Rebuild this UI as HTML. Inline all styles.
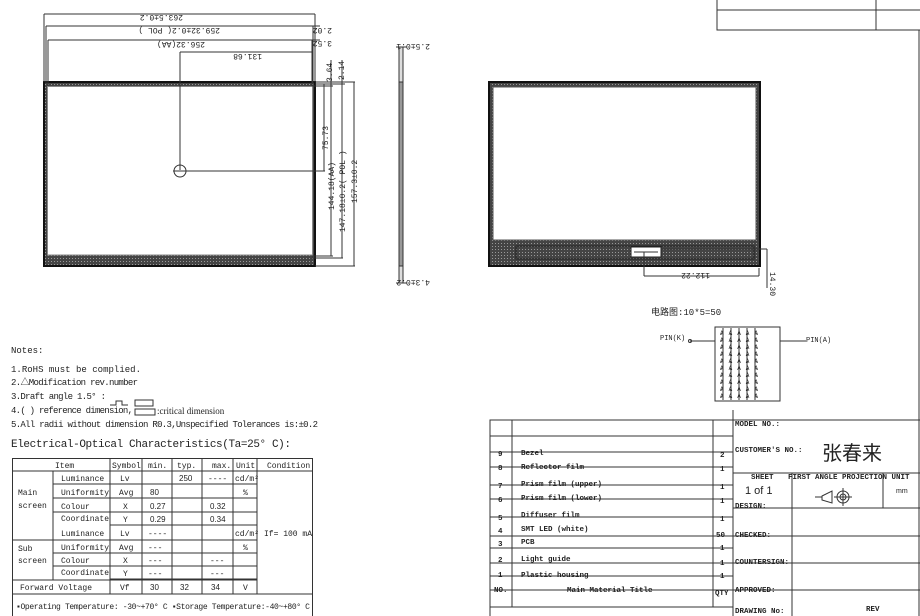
<!DOCTYPE html>
<html><head><meta charset="utf-8"><style>
html,body{margin:0;padding:0;background:#fff;}
svg{display:block;}
text{font-family:"Liberation Mono","Noto Sans CJK SC",monospace;fill:#222;}
.s{font-family:"Liberation Sans","Noto Sans CJK SC",sans-serif;}
.sf{font-family:"Liberation Serif","Noto Serif CJK SC",serif;}
</style></head><body>
<svg width="920" height="616" viewBox="0 0 920 616" xmlns="http://www.w3.org/2000/svg">
<defs>
<pattern id="h" width="3" height="3" patternUnits="userSpaceOnUse"><rect width="3" height="3" fill="#444"/><rect width="1" height="1" fill="#999"/></pattern>
</defs>
<g stroke="#333" stroke-width="1" fill="none">
<!-- left drawing -->
<rect x="44" y="82" width="271" height="184" fill="url(#h)" stroke="#111" stroke-width="2"/>
<rect x="47.5" y="86.5" width="265" height="168.5" fill="#fff" stroke="#888"/>
<line x1="44" y1="14" x2="315" y2="14"/>
<line x1="44" y1="14" x2="44" y2="82"/><line x1="315" y1="14" x2="315" y2="82"/>
<line x1="46" y1="26" x2="320" y2="26"/><line x1="46" y1="26" x2="46" y2="84"/><line x1="313" y1="26" x2="313" y2="84"/>
<line x1="48" y1="40" x2="320" y2="40"/><line x1="48" y1="40" x2="48" y2="86"/><line x1="312" y1="40" x2="312" y2="86"/>
<line x1="180" y1="52" x2="312" y2="52"/><line x1="180" y1="52" x2="180" y2="170"/>
<line x1="180" y1="171" x2="325" y2="171"/>
<circle cx="180" cy="171" r="6"/><line x1="173" y1="171" x2="187" y2="171"/>
<line x1="315" y1="82" x2="355" y2="82"/><line x1="315" y1="84" x2="345" y2="84"/><line x1="312" y1="86" x2="333" y2="86"/>
<line x1="312" y1="256" x2="333" y2="256"/><line x1="312" y1="258" x2="343" y2="258"/><line x1="315" y1="266" x2="355" y2="266"/>
<line x1="324" y1="84" x2="324" y2="171"/><line x1="331" y1="86" x2="331" y2="256"/><line x1="342" y1="84" x2="342" y2="258"/><line x1="354" y1="82" x2="354" y2="266"/>
<line x1="331" y1="60" x2="331" y2="86"/><line x1="342" y1="60" x2="342" y2="84"/>
<!-- side view -->
<rect x="399" y="47" width="4" height="236" fill="#ddd"/>
<rect x="399" y="82" width="4" height="184" fill="#999"/>
<line x1="396" y1="47" x2="407" y2="47"/><line x1="396" y1="283" x2="407" y2="283"/>
<!-- right drawing -->
<rect x="489" y="82" width="271" height="184" fill="url(#h)" stroke="#111" stroke-width="2"/>
<rect x="493" y="87" width="263" height="153" fill="#fff" stroke="#555"/>
<rect x="516" y="246" width="238" height="13" stroke="#222"/>
<rect x="631" y="247" width="30" height="10" fill="#fff" stroke="#222"/>
<line x1="634" y1="252" x2="658" y2="252"/>
<line x1="644" y1="252" x2="644" y2="276"/><line x1="644" y1="276" x2="759" y2="276"/><line x1="759" y1="268" x2="759" y2="276"/>
<line x1="661" y1="249" x2="767" y2="249"/><line x1="767" y1="249" x2="767" y2="288"/>
<!-- top right table -->
<rect x="717" y="-1" width="210" height="31"/>
<line x1="717" y1="10" x2="920" y2="10"/><line x1="876" y1="0" x2="876" y2="30"/>
<line x1="919" y1="30" x2="919" y2="616"/>
<!-- LED box -->
<rect x="715" y="327" width="65" height="74"/>
<line x1="690" y1="341" x2="715" y2="341"/><line x1="780" y1="341" x2="806" y2="341"/>
<circle cx="690" cy="341" r="1.5"/>
<line x1="723" y1="328" x2="723" y2="400"/><line x1="731" y1="328" x2="731" y2="400"/><line x1="739" y1="328" x2="739" y2="400"/><line x1="747" y1="328" x2="747" y2="400"/><line x1="755" y1="328" x2="755" y2="400"/>
<!-- elec table -->
<rect x="12.5" y="458.5" width="300" height="160"/>
<line x1="12" y1="471" x2="312" y2="471"/>
<line x1="53" y1="484" x2="257" y2="484"/><line x1="53" y1="498" x2="257" y2="498"/><line x1="53" y1="512" x2="257" y2="512"/><line x1="110" y1="525" x2="257" y2="525"/>
<line x1="12" y1="540" x2="257" y2="540"/>
<line x1="53" y1="553" x2="257" y2="553"/><line x1="53" y1="566" x2="257" y2="566"/><line x1="110" y1="579" x2="257" y2="579"/>
<line x1="12" y1="580" x2="257" y2="580"/><line x1="12" y1="594" x2="312" y2="594"/>
<line x1="53" y1="471" x2="53" y2="580"/><line x1="110" y1="458" x2="110" y2="594"/><line x1="142" y1="458" x2="142" y2="594"/><line x1="172" y1="458" x2="172" y2="594"/><line x1="202" y1="458" x2="202" y2="594"/><line x1="233" y1="458" x2="233" y2="594"/><line x1="257" y1="458" x2="257" y2="594"/>
<!-- notes icons -->
<rect x="135" y="400" width="18" height="6"/><rect x="135" y="409" width="20" height="6"/>
<path d="M110 405 h6 v-4 h6 v4 h6"/>
<!-- material table -->
<rect x="490" y="420" width="243" height="200"/>
<line x1="512" y1="420" x2="512" y2="607"/><line x1="713" y1="420" x2="713" y2="607"/>
<line x1="490" y1="436" x2="733" y2="436"/>
<line x1="490" y1="452" x2="733" y2="452"/><line x1="490" y1="467" x2="733" y2="467"/><line x1="490" y1="485" x2="733" y2="485"/><line x1="490" y1="499" x2="733" y2="499"/><line x1="490" y1="517" x2="733" y2="517"/><line x1="490" y1="536" x2="733" y2="536"/><line x1="490" y1="548" x2="733" y2="548"/><line x1="490" y1="563" x2="733" y2="563"/><line x1="490" y1="576" x2="733" y2="576"/><line x1="490" y1="590" x2="733" y2="590"/><line x1="490" y1="607" x2="733" y2="607"/>
<!-- title block -->
<line x1="733" y1="420" x2="920" y2="420"/><line x1="733" y1="410" x2="733" y2="616"/>
<line x1="733" y1="473" x2="920" y2="473"/><line x1="733" y1="508" x2="920" y2="508"/><line x1="733" y1="536" x2="920" y2="536"/><line x1="733" y1="563" x2="920" y2="563"/><line x1="733" y1="590" x2="920" y2="590"/>
<line x1="792" y1="473" x2="792" y2="616"/><line x1="883" y1="473" x2="883" y2="508"/>
<path d="M822 496 l10 -5 v12 l-10 -3 z"/><line x1="815" y1="497" x2="822" y2="497"/>
<circle cx="843" cy="497" r="6"/><circle cx="843" cy="497" r="3"/><line x1="834" y1="497" x2="852" y2="497"/><line x1="843" y1="488" x2="843" y2="506"/>
</g>
<!-- dimension texts -->
<g font-size="8" class="s">
<text transform="translate(183,14) rotate(180)" dy="-1">263.5±0.2</text>
<text transform="translate(220,27) rotate(180)" dy="-1">259.32±0.2( POL )</text>
<text transform="translate(205,41) rotate(180)" dy="-1">256.32(AA)</text>
<text transform="translate(262,53) rotate(180)" dy="-1">131.68</text>
<text transform="translate(332,28) rotate(180)">2.02</text>
<text transform="translate(332,41) rotate(180)">3.52</text>
<text transform="translate(332,82) rotate(-90)">3.64</text>
<text transform="translate(344,80) rotate(-90)">2.14</text>
<text transform="translate(328,150) rotate(-90)">75.73</text>
<text transform="translate(334,210) rotate(-90)">144.18(AA)</text>
<text transform="translate(345,232) rotate(-90)">147.18±0.2( POL )</text>
<text transform="translate(357,203) rotate(-90)">157.3±0.2</text>
<text transform="translate(430,44) rotate(180)">2.5±0.1</text>
<text transform="translate(430,280) rotate(180)">4.3±0.2</text>
<text transform="translate(710,273) rotate(180)">112.22</text>
<text transform="translate(770,272) rotate(90)">14.30</text>
<text x="651" y="315" font-size="9">电路图:10*5=50</text>
<text x="660" y="340" font-size="7">PIN(K)</text>
<text x="806" y="342" font-size="7">PIN(A)</text>
</g>
<g font-size="6" class="s" fill="#222">
<text x="720" y="335" textLength="38">ѦѦѦѦѦ</text><text x="720" y="342" textLength="38">ѦѦѦѦѦ</text><text x="720" y="349" textLength="38">ѦѦѦѦѦ</text><text x="720" y="356" textLength="38">ѦѦѦѦѦ</text><text x="720" y="363" textLength="38">ѦѦѦѦѦ</text><text x="720" y="370" textLength="38">ѦѦѦѦѦ</text><text x="720" y="377" textLength="38">ѦѦѦѦѦ</text><text x="720" y="384" textLength="38">ѦѦѦѦѦ</text><text x="720" y="391" textLength="38">ѦѦѦѦѦ</text><text x="720" y="398" textLength="38">ѦѦѦѦѦ</text>
</g>
<!-- notes -->
<g font-size="9">
<text x="11" y="353">Notes:</text>
<text x="11" y="372" textLength="130">1.RoHS must be complied.</text>
<text x="11" y="385" textLength="127">2.△Modification rev.number</text>
<text x="11" y="399" textLength="95">3.Draft angle 1.5° :</text>
<text x="11" y="413" textLength="122">4.( ) reference dimension,</text>
<text x="157" y="414" class="sf">:critical dimension</text>
<text x="11" y="427" textLength="307">5.All radii without dimension R0.3,Unspecified Tolerances is:±0.2</text>
<text x="11" y="447" font-size="11" textLength="280">Electrical-Optical  Characteristics(Ta=25° C):</text>
</g>
<g font-size="8" class="sf">
<text x="55" y="468">Item</text><text x="112" y="468">Symbol</text><text x="148" y="468">min.</text><text x="177" y="468">typ.</text><text x="212" y="468">max.</text><text x="236" y="468">Unit</text><text x="267" y="468">Condition</text>
<text x="61" y="481">Luminance</text><text x="120" y="481">Lv</text><text x="179" y="481" class="s">250</text><text x="208" y="481">----</text><text x="235" y="481">cd/m²</text>
<text x="18" y="495">Main</text><text x="61" y="495">Uniformity</text><text x="119" y="495">Avg</text><text x="150" y="495" class="s">80</text><text x="243" y="495">%</text>
<text x="18" y="508">screen</text><text x="61" y="509">Colour</text><text x="123" y="509">X</text><text x="150" y="509" class="s">0.27</text><text x="210" y="509" class="s">0.32</text>
<text x="61" y="521">Coordinate</text><text x="123" y="522">Y</text><text x="150" y="522" class="s">0.29</text><text x="210" y="522" class="s">0.34</text>
<text x="61" y="536">Luminance</text><text x="120" y="536">Lv</text><text x="148" y="536">----</text><text x="235" y="536">cd/m²</text><text x="264" y="536">If= 100 mA</text>
<text x="18" y="551">Sub</text><text x="61" y="550">Uniformity</text><text x="119" y="550">Avg</text><text x="148" y="550">---</text><text x="243" y="550">%</text>
<text x="18" y="563">screen</text><text x="61" y="563">Colour</text><text x="123" y="563">X</text><text x="148" y="563">---</text><text x="210" y="563">---</text>
<text x="61" y="575">Coordinate</text><text x="123" y="576">Y</text><text x="148" y="576">---</text><text x="210" y="576">---</text>
<text x="20" y="590">Forward Voltage</text><text x="120" y="590">Vf</text><text x="150" y="590" class="s">30</text><text x="180" y="590" class="s">32</text><text x="211" y="590" class="s">34</text><text x="243" y="590">V</text>
<text x="16" y="609" textLength="294">▪Operating Temperature: -30~+70° C ▪Storage Temperature:-40~+80° C</text>
</g>
<!-- materials -->
<g font-size="7.5" font-weight="bold">
<text x="498" y="456">9</text><text x="521" y="455">Bezel</text><text x="720" y="457">2</text>
<text x="498" y="470">8</text><text x="521" y="469">Reflector film</text><text x="720" y="471">1</text>
<text x="498" y="488">7</text><text x="521" y="486">Prism film (upper)</text><text x="720" y="489">1</text>
<text x="498" y="502">6</text><text x="521" y="500">Prism film (lower)</text><text x="720" y="503">1</text>
<text x="498" y="520">5</text><text x="521" y="517">Diffuser film</text><text x="720" y="521">1</text>
<text x="498" y="533">4</text><text x="521" y="531">SMT LED (white)</text><text x="716" y="537">50</text>
<text x="498" y="546">3</text><text x="521" y="544">PCB</text><text x="720" y="550">1</text>
<text x="498" y="562">2</text><text x="521" y="561">Light guide</text><text x="720" y="565">1</text>
<text x="498" y="577">1</text><text x="521" y="577">Plastic housing</text><text x="720" y="578">1</text>
<text x="494" y="592">NO.</text><text x="567" y="592">Main Material Title</text><text x="715" y="595">QTY</text>
<text x="735" y="426">MODEL NO.:</text>
<text x="735" y="452">CUSTOMER'S NO.:</text>
<text x="751" y="479">SHEET</text><text x="788" y="479">FIRST ANGLE PROJECTION UNIT</text>
<text x="735" y="508">DESIGN:</text><text x="735" y="537">CHECKED:</text><text x="735" y="564">COUNTERSIGN:</text><text x="735" y="592">APPROVED:</text><text x="735" y="613">DRAWING No:</text><text x="866" y="611">REV</text>
</g>
<text x="745" y="494" font-size="11" class="s">1 of 1</text>
<text x="896" y="493" font-size="7" class="s">mm</text>
<text x="822" y="460" font-size="20" class="s">张春来</text>
</svg>
</body></html>
